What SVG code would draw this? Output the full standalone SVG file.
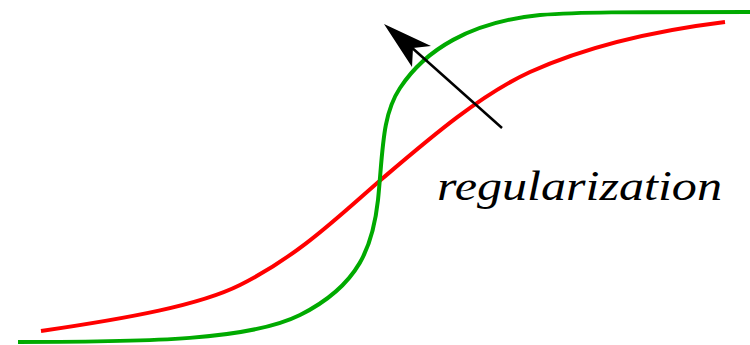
<svg xmlns="http://www.w3.org/2000/svg" width="750" height="345" viewBox="0 0 750 345">
<style>
.curve{fill:none;stroke-width:4;stroke-linecap:butt}
.lbl{font-family:"Times New Roman","Liberation Serif",Times,serif;font-style:italic;font-size:43px;fill:#000}
</style>
<rect width="750" height="345" fill="#fff"/>
<g id="red-curve"><path class="curve" stroke="#ff0000" d="M41,331 C130,318 200,305 240,285 C300,255 340,215 383,178 C430,138 480,95 530,72 C590,45 660,30 725,22"/></g>
<g id="green-curve"><path class="curve" stroke="#00aa00" d="M18,342 C150,342 250,340 300,315 C360,285 373,245 378,200 C383,150 382,115 400,88 C425,50 470,22 540,15 C580,12 620,12 750,12"/></g>
<g id="connectors">
<line x1="502" y1="128" x2="410" y2="46" stroke="#000" stroke-width="2.5"/>
<polygon points="384,24 431,46 413,48 412,67" fill="#000"/>
</g>
<g id="label"><text class="lbl" x="437" y="200" textLength="285" lengthAdjust="spacingAndGlyphs">regularization</text></g>
</svg>
